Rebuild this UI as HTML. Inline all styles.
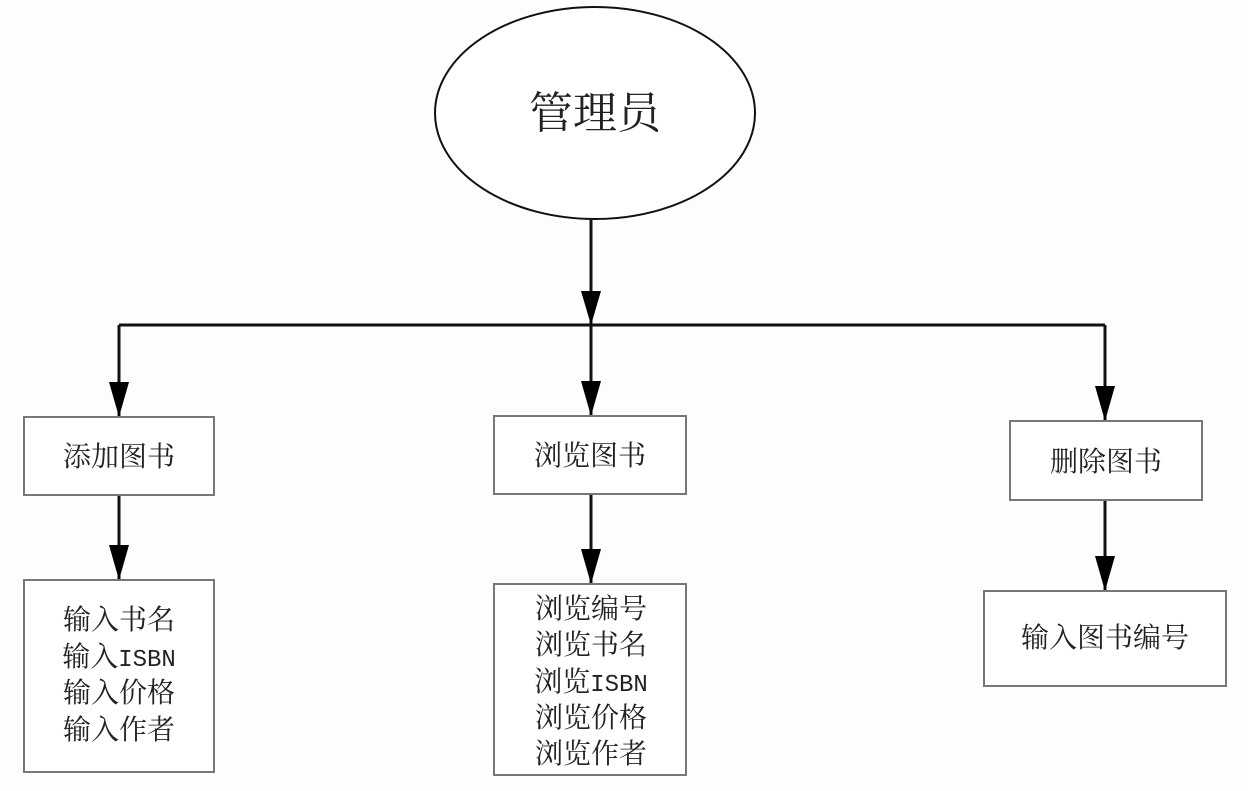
<!DOCTYPE html>
<html><head><meta charset="utf-8"><style>
html,body{margin:0;padding:0;background:#fdfdfd;}
svg text{font-family:"Liberation Serif","Noto Serif CJK SC",serif;fill:#222;}
svg tspan.m{font-family:"Liberation Mono",monospace;font-size:24px;}
</style></head><body>
<svg width="1248" height="786" viewBox="0 0 1248 786" xmlns="http://www.w3.org/2000/svg">
<ellipse cx="595" cy="113" rx="160" ry="106" fill="#fff" stroke="#111" stroke-width="2"/>
<text x="595" y="128" font-size="44" text-anchor="middle">管理员</text>
<g stroke="#111" stroke-width="3" fill="none">
<line x1="591" y1="220" x2="591" y2="325"/>
<line x1="119" y1="325" x2="1105" y2="325"/>
<line x1="119" y1="325" x2="119" y2="417"/>
<line x1="591" y1="325" x2="591" y2="416"/>
<line x1="1105" y1="325" x2="1105" y2="421"/>
<line x1="119" y1="495" x2="119" y2="580"/>
<line x1="591" y1="494" x2="591" y2="584"/>
<line x1="1105" y1="500" x2="1105" y2="591"/>
</g>
<g fill="#000">
<polygon points="581,291 601,291 591,325"/>
<polygon points="109,382 129,382 119,417"/>
<polygon points="581,381 601,381 591,416"/>
<polygon points="1095,386 1115,386 1105,421"/>
<polygon points="109,545 129,545 119,580"/>
<polygon points="581,549 601,549 591,584"/>
<polygon points="1095,556 1115,556 1105,591"/>
</g>
<g fill="#fff" stroke="#777" stroke-width="2">
<rect x="24" y="417" width="190" height="78"/>
<rect x="494" y="416" width="192" height="78"/>
<rect x="1010" y="421" width="192" height="79"/>
<rect x="24" y="580" width="190" height="192"/>
<rect x="494" y="584" width="192" height="191"/>
<rect x="984" y="591" width="242" height="95"/>
</g>
<g font-size="28" text-anchor="middle">
<text x="119" y="466">添加图书</text>
<text x="590" y="465">浏览图书</text>
<text x="1106" y="471">删除图书</text>
<text x="119" y="629">输入书名</text>
<text x="119" y="666">输入<tspan class="m">ISBN</tspan></text>
<text x="119" y="702">输入价格</text>
<text x="119" y="739">输入作者</text>
<text x="591" y="618">浏览编号</text>
<text x="591" y="654">浏览书名</text>
<text x="591" y="691">浏览<tspan class="m">ISBN</tspan></text>
<text x="591" y="727">浏览价格</text>
<text x="591" y="763">浏览作者</text>
<text x="1105" y="647">输入图书编号</text>
</g>
</svg>
</body></html>
